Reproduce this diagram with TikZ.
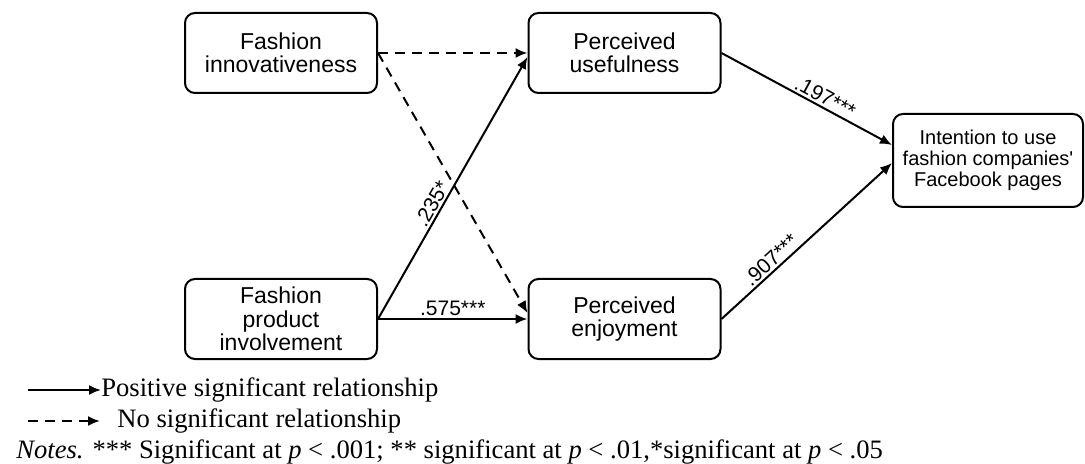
\documentclass[tikz,border=0pt]{standalone}
\usepackage{fontspec}
\setmainfont{Liberation Serif}
\newfontfamily\arial{Liberation Sans}
\usetikzlibrary{arrows.meta}
\tikzset{>={Latex[length=6pt,width=5pt]}}
\tikzset{
  construct/.style={draw, line width=1pt, rounded corners=5pt, inner sep=0pt,
    minimum width=96pt, minimum height=40pt, align=center,
    font=\arial\fontsize{11.5}{11.7}\selectfont},
  coef/.style={sloped, above, inner sep=1pt, font=\arial\fontsize{10.5}{12}\selectfont},
  sig/.style={->, line width=1pt},
  nonsig/.style={->, line width=1pt, dash pattern=on 5pt off 3.5pt},
  legend/.style={anchor=west, inner sep=0pt, font=\fontsize{13.3}{15}\selectfont},
}

\begin{document}
\begin{tikzpicture}[x=0.5pt, y=-0.5pt]
    \useasboundingbox (0,0) rectangle (1085,464);
    % constructs
    \node[construct] (fi)  at (281,53)    {Fashion\\innovativeness};
    \node[construct] (pu)  at (624.5,53)  {Perceived\\usefulness};
    \node[construct] (fpi) at (281,319)   {Fashion\\product\\involvement};
    \node[construct] (pe)  at (624.5,319) {Perceived\\enjoyment};
    \node[construct, minimum width=95pt, minimum height=46.5pt,
          font=\arial\fontsize{10}{10.4}\selectfont] (itu) at (988,160.5)
          {Intention to use\\fashion companies'\\Facebook pages};
    % paths
    \draw[nonsig] (fi.east) -- (pu.west);
    \draw[nonsig] (fi.east) -- ([yshift=3pt]pe.west);
    \draw[sig] (fpi.east) -- node[coef, pos=.42] {.235*} ([yshift=-2pt]pu.west);
    \draw[sig] (fpi.east) -- node[coef] {.575***} (pe.west);
    \draw[sig] (pu.east) -- node[coef, pos=.58] {.197***} ([yshift=7.75pt]itu.west);
    \draw[sig] (pe.east) -- node[coef, pos=.33] {.907***} ([yshift=-1.25pt]itu.west);
    % legend
    \coordinate (solstart) at (28,390);
    \node[legend] (possig) at (101,390) {Positive significant relationship};
    \draw[sig] (solstart) -- (possig.west);
    \coordinate (dashstart) at (28,421);
    \coordinate (dashend) at (100,421);
    \node[legend] (nosig) at (117,421) {No significant relationship};
    \draw[nonsig] (dashstart) -- (dashend);
    \node[legend] (notes) at (16,452) {\textit{Notes.} *** Significant at \textit{p} < .001; ** significant at \textit{p} < .01,*significant at \textit{p} < .05};
\end{tikzpicture}
\end{document}
